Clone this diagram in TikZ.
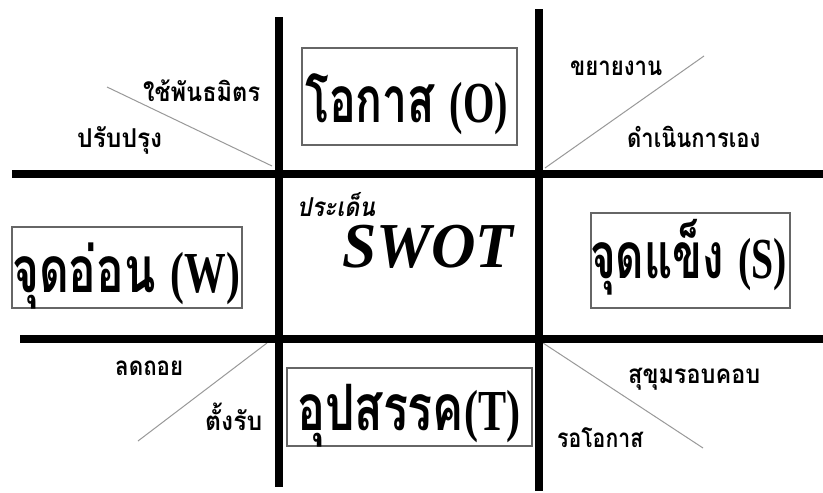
\documentclass[tikz,border=0pt]{standalone}
\usepackage{fontspec}
\usepackage{graphicx}
\newfontfamily\thaifont[Script=Thai]{Loma}
\newfontfamily\serifbf{Liberation Serif}
\newcommand{\fitto}[2]{\resizebox{#1pt}{\height}{#2}}
\tikzset{
  gridline/.style={line width=8pt, black, line cap=butt},
  diagline/.style={line width=1pt, black!40},
  labelbox/.style={draw=black!60, line width=1.2pt, inner sep=0, fill=none},
  smalllabel/.style={inner sep=0, anchor=base west, font=\thaifont\bfseries\fontsize{26}{26}\selectfont},
  biglabel/.style={inner sep=0, anchor=base west, font=\thaifont\bfseries\fontsize{64}{64}\selectfont},
}
\begin{document}
\begin{tikzpicture}[x=1pt,y=-1pt]
\useasboundingbox (0,0) rectangle (823,493);
\fill[white] (0,0) rectangle (823,493);
% grid coordinates
\coordinate (v1t) at (279,17);  \coordinate (v1b) at (279,487);
\coordinate (v2t) at (539,9);   \coordinate (v2b) at (539,491);
\coordinate (h1l) at (12,174);  \coordinate (h1r) at (823,174);
\coordinate (h2l) at (20,339);  \coordinate (h2r) at (823,339);
% diagonal coordinates
\coordinate (d1a) at (107,87);  \coordinate (d1b) at (272,166);
\coordinate (d2a) at (545,168); \coordinate (d2b) at (704,56);
\coordinate (d3a) at (267,343); \coordinate (d3b) at (138,441);
\coordinate (d4a) at (543,343); \coordinate (d4b) at (703,448);
\draw[diagline] (d1a) -- (d1b);
\draw[diagline] (d2a) -- (d2b);
\draw[diagline] (d3a) -- (d3b);
\draw[diagline] (d4a) -- (d4b);
\draw[gridline] (v1t) -- (v1b);
\draw[gridline] (v2t) -- (v2b);
\draw[gridline] (h1l) -- (h1r);
\draw[gridline] (h2l) -- (h2r);
% boxes
\node[labelbox, minimum width=215pt, minimum height=97pt] (boxO) at (409.5,96.5) {};
\node[labelbox, minimum width=230pt, minimum height=81pt] (boxW) at (127,267.5) {};
\node[labelbox, minimum width=199pt, minimum height=95pt] (boxS) at (690.5,260.5) {};
\node[labelbox, minimum width=245pt, minimum height=78pt] (boxT) at (409.5,407) {};
% box texts
\node[biglabel] (tO) at (305,122) {\fitto{203}{โอกาส {\serifbf\bfseries\fontsize{58}{58}\selectfont (O)}}};
\node[biglabel] (tW) at (12,292) {\fitto{228}{จุดอ่อน {\serifbf\bfseries\fontsize{58}{58}\selectfont (W)}}};
\node[biglabel] (tS) at (590,278) {\fitto{197}{จุดแข็ง {\serifbf\bfseries\fontsize{58}{58}\selectfont (S)}}};
\node[biglabel] (tT) at (297,430) {\fitto{223}{อุปสรรค{\serifbf\bfseries\fontsize{58}{58}\selectfont (T)}}};
% centre
\node[inner sep=0, anchor=base west, font=\thaifont\bfseries\itshape\fontsize{26}{26}\selectfont] (issue) at (297,216) {\fitto{78}{ประเด็น}};
\node[inner sep=0, anchor=base west, text height=44pt, text depth=0pt, font=\serifbf\bfseries\itshape\fontsize{64}{64}\selectfont] (swot) at (342,267) {\fitto{171}{SWOT}};
% small labels
\node[smalllabel] (l1) at (143,101) {\fitto{117}{ใช้พันธมิตร}};
\node[smalllabel] (l2) at (77,147) {\fitto{85}{ปรับปรุง}};
\node[smalllabel] (l3) at (570,75) {\fitto{92}{ขยายงาน}};
\node[smalllabel] (l4) at (627,147) {\fitto{133}{ดำเนินการเอง}};
\node[smalllabel] (l5) at (115,375) {\fitto{68}{ลดถอย}};
\node[smalllabel] (l6) at (205,430) {\fitto{57}{ตั้งรับ}};
\node[smalllabel] (l7) at (628,383) {\fitto{132}{สุขุมรอบคอบ}};
\node[smalllabel] (l8) at (557,447) {\fitto{86}{รอโอกาส}};
\end{tikzpicture}
\end{document}
